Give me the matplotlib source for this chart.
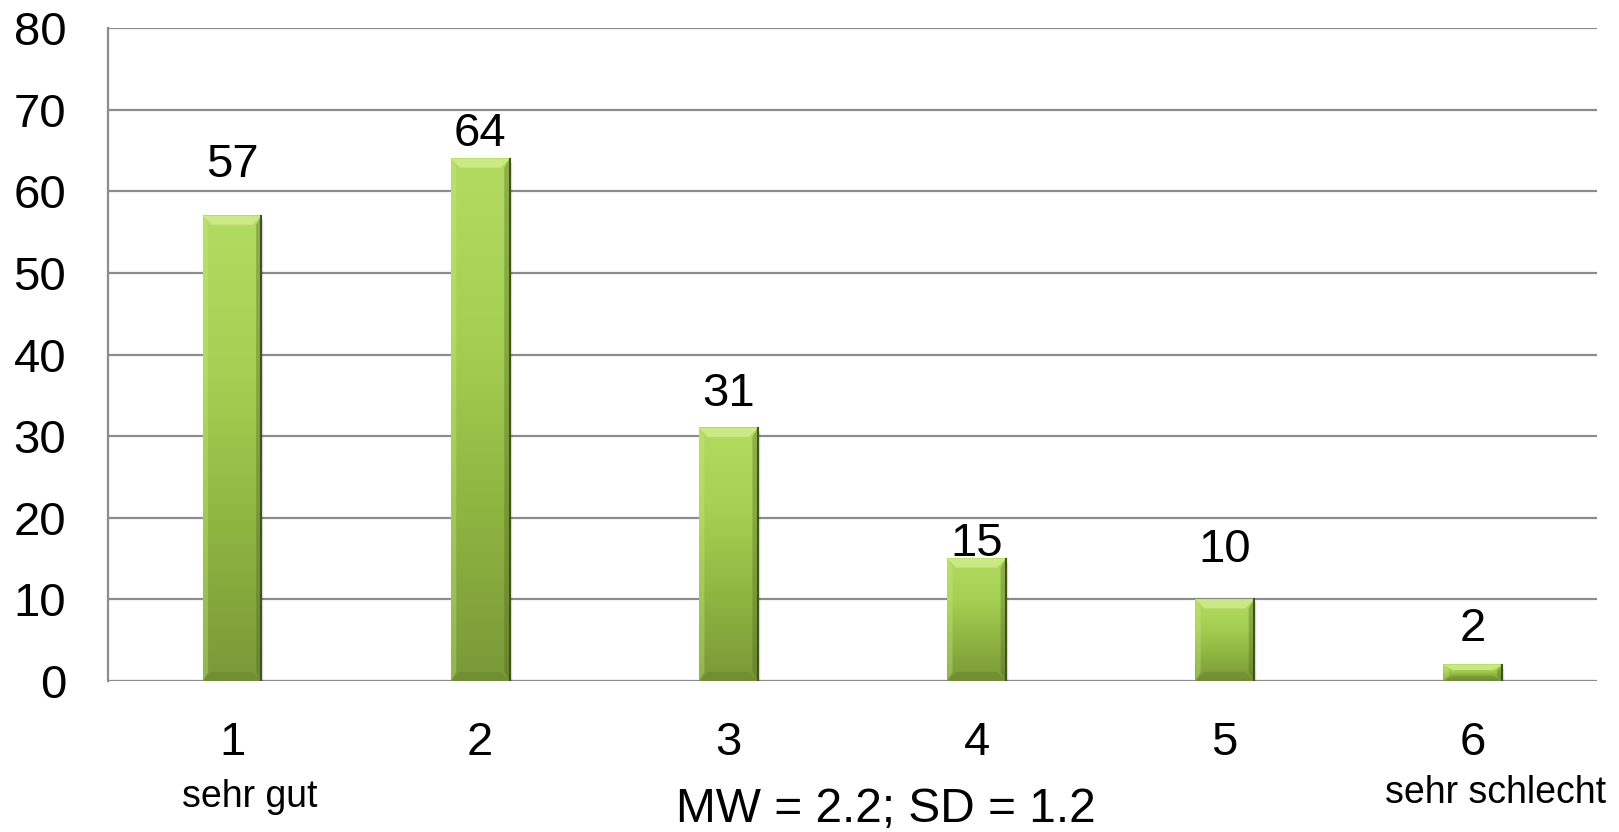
import numpy as np
import matplotlib.pyplot as plt
from matplotlib.colors import LinearSegmentedColormap
from matplotlib.patches import Polygon, Rectangle
import matplotlib.transforms as mtransforms

plt.rcParams['font.family'] = ['Liberation Sans', 'DejaVu Sans']

# ratings 1..6 and how many answers each got
grades = [1, 2, 3, 4, 5, 6]
counts = [57, 64, 31, 15, 10, 2]
# heights where the count labels sit
label_y = [63.2, 67.0, 35.2, 16.8, 16.0, 6.4]
summary = "MW = 2.2; SD = 1.2"

BAR_W = 0.237

fig = plt.figure(figsize=(16.19, 8.32), dpi=100)
ax = fig.add_axes([0.0667, 0.1815, 0.9197, 0.7848])
ax.set_xlim(0.5, 6.5)
ax.set_ylim(0, 80)

# gridlines
ax.set_yticks(range(0, 81, 10))
ax.yaxis.grid(True, color='#8c8c8c', linewidth=1.6)
ax.set_axisbelow(True)
for side in ['top', 'right', 'bottom']:
    ax.spines[side].set_visible(False)
ax.spines['left'].set_color('#8c8c8c')
ax.spines['left'].set_linewidth(1.6)
ax.axhline(0, color='#8c8c8c', linewidth=2.2, zorder=1)
ax.tick_params(axis='y', length=0, pad=30, labelsize=34)
ax.tick_params(axis='x', length=0, pad=29, labelsize=34)
ax.set_xticks(grades)
ax.set_xticklabels([str(g) for g in grades])

green = LinearSegmentedColormap.from_list('bar', ['#7a9938', '#8fb541', '#a6d052', '#b2db61'])

# pixel -> data scale for bevels
px_x = 6.0 / (0.9197 * 1619)
px_y = 80.0 / (0.7848 * 832)

grad = np.linspace(0, 1, 256).reshape(-1, 1)
for g, c in zip(grades, counts):
    x0, x1 = g - BAR_W / 2, g + BAR_W / 2
    # soft shadow under the bar
    for k, a in enumerate([0.10, 0.07, 0.04]):
        ax.add_patch(Rectangle((x0 + (k + 1) * px_x, -(k + 2) * px_y),
                               BAR_W, c, facecolor='black', alpha=a,
                               edgecolor='none', zorder=2))
    ax.imshow(grad, cmap=green, origin='lower', aspect='auto',
              extent=(x0, x1, 0, c), zorder=3)
    bw = min(9 * px_x, BAR_W / 4)
    bh = min(9 * px_y, c / 3)
    # bevel faces
    ax.add_patch(Polygon([(x0, c), (x1, c), (x1 - bw, c - bh), (x0 + bw, c - bh)],
                         facecolor='#d4ef94', alpha=0.75, edgecolor='none', zorder=4))
    ax.add_patch(Polygon([(x0, 0), (x1, 0), (x1 - bw, bh), (x0 + bw, bh)],
                         facecolor='#5f7a28', alpha=0.35, edgecolor='none', zorder=4))
    ax.add_patch(Polygon([(x0, 0), (x0, c), (x0 + bw * 0.6, c - bh), (x0 + bw * 0.6, bh)],
                         facecolor='#c8e88a', alpha=0.35, edgecolor='none', zorder=4))
    ax.add_patch(Polygon([(x1, 0), (x1, c), (x1 - bw * 0.6, c - bh), (x1 - bw * 0.6, bh)],
                         facecolor='#4d6420', alpha=0.35, edgecolor='none', zorder=4))
    ax.plot([x1, x1], [0, c], color='#3f5418', linewidth=1.5, zorder=5)

for g, c, ly in zip(grades, counts, label_y):
    ax.text(g, ly, str(c), ha='center', va='center', fontsize=34, zorder=6)

below = mtransforms.blended_transform_factory(ax.transData, fig.transFigure)
ax.text(1.07, (832 - 797) / 832, "sehr gut", transform=below,
        ha='center', va='center', fontsize=27)
ax.text(6.09, (832 - 793) / 832, "sehr schlecht", transform=below,
        ha='center', va='center', fontsize=27)
fig.text(886 / 1619, (832 - 809) / 832, summary, ha='center', va='center', fontsize=34.5)

fig.savefig('out.png', dpi=100)
